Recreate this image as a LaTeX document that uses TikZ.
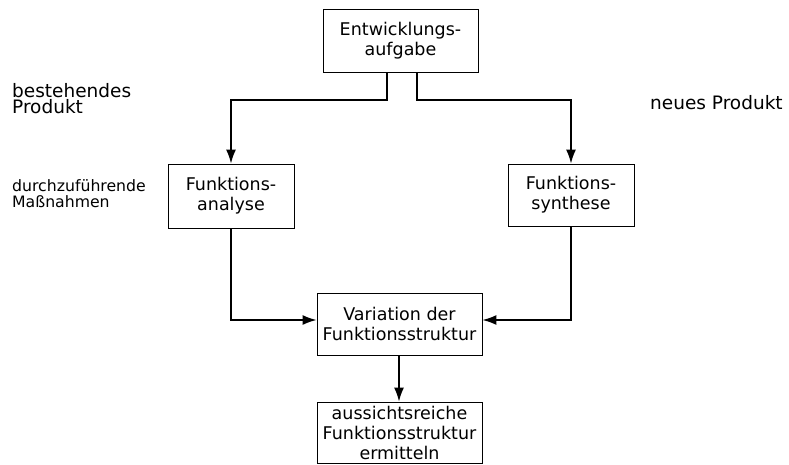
\documentclass[tikz,border=0pt]{standalone}
\usepackage{fontspec}
\setmainfont{DejaVu Sans}
\usetikzlibrary{arrows.meta}
\tikzset{
  box/.style={draw, line width=0.8pt, inner sep=0pt, align=center,
    font=\fontsize{17.5}{20}\selectfont},
  label/.style={inner sep=0pt, anchor=west, align=left,
    font=\fontsize{18.5}{16.7}\selectfont},
  smalllabel/.style={inner sep=0pt, anchor=west, align=left,
    font=\fontsize{15.7}{16.7}\selectfont},
  flow/.style={line width=1.6pt, -{Latex[length=14pt,width=10pt]}},
}
\begin{document}
\begin{tikzpicture}[x=1pt,y=1pt]
  \useasboundingbox (0,0) rectangle (789,-464);

  \node[box, minimum width=155pt, minimum height=63pt] (task) at (400.5,-40.5)
    {Entwicklungs-\\aufgabe};
  \node[box, minimum width=126pt, minimum height=64pt] (ana) at (231,-196)
    {Funktions-\\analyse};
  \node[box, minimum width=126pt, minimum height=62pt] (syn) at (571,-195)
    {Funktions-\\synthese};
  \node[box, minimum width=165pt, minimum height=62pt] (var) at (399.5,-324)
    {Variation der\\Funktionsstruktur};
  \node[box, minimum width=165pt, minimum height=61pt] (res) at (399.5,-432.5)
    {aussichtsreiche\\Funktionsstruktur\\ermitteln};

  \node[label] (old) at (12,-98.5) {bestehendes\\Produkt};
  \node[label] (new) at (650,-103) {neues Produkt};
  \node[smalllabel] (todo) at (12,-193.5) {durchzuführende\\Maßnahmen};

  \draw[flow] ([xshift=-13.5pt]task.south) -- ++(0,-27.5) -| (ana.north);
  \draw[flow] ([xshift=16.5pt]task.south) -- ++(0,-27.5) -| (syn.north);
  \draw[flow] (ana.south) |- ([yshift=4pt]var.west);
  \draw[flow] (syn.south) |- ([yshift=4pt]var.east);
  \draw[flow] ([xshift=-0.5pt]var.south) -- ([xshift=-0.5pt]res.north);
\end{tikzpicture}
\end{document}
